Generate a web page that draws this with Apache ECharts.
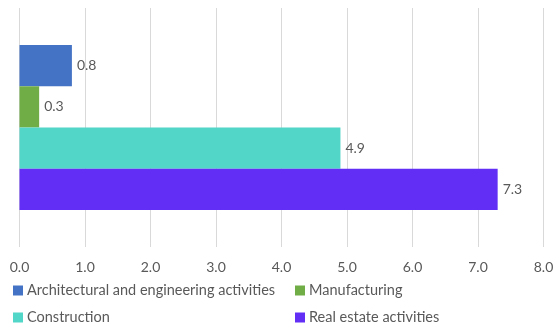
<!DOCTYPE html>
<html>
<head>
<meta charset="utf-8">
<script src="https://cdn.jsdelivr.net/npm/echarts@6/dist/echarts.min.js"></script>
<style>
  html, body { margin: 0; padding: 0; background: #ffffff; }
  #chart { width: 558px; height: 332px; }
</style>
</head>
<body>
<div id="chart"></div>
<script>
// Share by sector (single category, one bar per sector)
const categories = [''];
const seriesNames = [
  'Architectural and engineering activities',
  'Manufacturing',
  'Construction',
  'Real estate activities'
];
const seriesValues = [0.8, 0.3, 4.9, 7.3];
const seriesColors = ['#4472C4', '#70AD47', '#52D6C8', '#622EF6'];
const xTicks = [0, 1, 2, 3, 4, 5, 6, 7, 8];

const FONT = 'Lato, "Open Sans", sans-serif';
const TEXT = '#595959';

const chart = echarts.init(document.getElementById('chart'), null, { renderer: 'canvas' });

// Legend slots: two columns, two rows
const legendPos = [
  { left: 8, top: 278 },
  { left: 290, top: 278 },
  { left: 8, top: 305 },
  { left: 290, top: 305 }
];

const legends = seriesNames.map((name, i) => ({
  data: [name],
  left: legendPos[i].left,
  top: legendPos[i].top,
  orient: 'horizontal',
  itemWidth: 10,
  itemHeight: 10,
  itemGap: 0,
  icon: 'rect',
  selectedMode: false,
  textStyle: { color: TEXT, fontFamily: FONT, fontSize: 14.5, padding: [0, 0, 0, -1] }
}));

chart.setOption({
  animation: false,
  backgroundColor: '#ffffff',
  grid: { left: 19.5, right: 14.5, top: 8, bottom: 85, containLabel: false },
  legend: legends,
  xAxis: {
    type: 'value',
    min: xTicks[0],
    max: xTicks[xTicks.length - 1],
    interval: 1,
    axisLine: { show: false },
    axisTick: { show: false },
    splitLine: { show: true, lineStyle: { color: '#d9d9d9', width: 1 } },
    axisLabel: {
      color: TEXT, fontFamily: FONT, fontSize: 14, margin: 13,
      formatter: v => v.toFixed(1)
    }
  },
  yAxis: {
    type: 'category',
    data: categories,
    inverse: true,
    axisLine: { show: false },
    axisTick: { show: false },
    axisLabel: { show: false }
  },
  series: seriesNames.map((name, i) => ({
    name: name,
    type: 'bar',
    data: [seriesValues[i]],
    barGap: '0%',
    barCategoryGap: '31%',
    itemStyle: { color: seriesColors[i] },
    label: {
      show: true,
      position: 'right',
      distance: 5,
      color: TEXT,
      fontFamily: FONT,
      fontSize: 14,
      formatter: p => p.value.toFixed(1)
    }
  }))
});
</script>
</body>
</html>
